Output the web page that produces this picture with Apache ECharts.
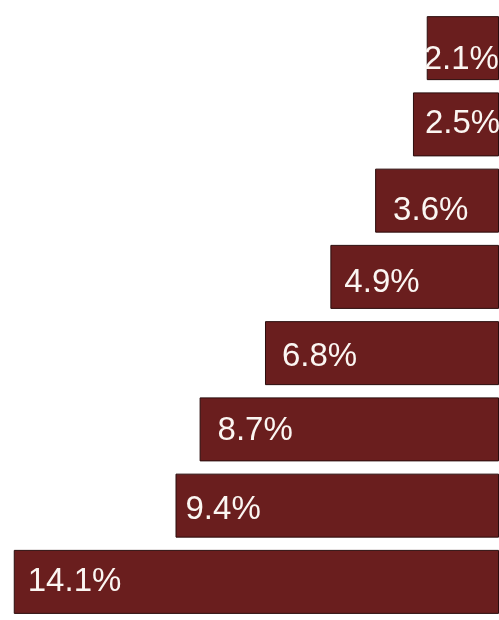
<!DOCTYPE html>
<html>
<head>
<meta charset="utf-8">
<script src="https://cdn.jsdelivr.net/npm/echarts@6/dist/echarts.min.js"></script>
<style>
  html, body { margin: 0; padding: 0; background: #fff; }
  #chart { width: 499px; height: 620px; }
</style>
</head>
<body>
<div id="chart"></div>
<script>
// 数据：从上到下
const categories = ['r1', 'r2', 'r3', 'r4', 'r5', 'r6', 'r7', 'r8']
const shares = [2.1, 2.5, 3.6, 4.9, 6.8, 8.7, 9.4, 14.1]

// label nudges inside each bar (style only)
const labelPad = [-3, 12, 18, 14, 17, 18, 10, 14]
const labelDrop = [12, 0, 10, 6, 4, 2, 4, 0]

const chart = echarts.init(document.getElementById('chart'))

const option = {
  backgroundColor: '#fff',
  animation: false,
  grid: {
    left: 0,
    right: 0,
    top: 10,
    height: 616
  },
  xAxis: {
    type: 'value',
    inverse: true,
    min: 0,
    max: 14.5,
    show: false
  },
  yAxis: {
    type: 'category',
    inverse: true,
    data: categories,
    show: false
  },
  series: [
    {
      type: 'bar',
      barWidth: 64,
      data: shares.map((v, i) => ({
        value: v,
        label: { distance: labelPad[i], offset: [0, labelDrop[i]] }
      })),
      itemStyle: {
        color: '#6a1e1e',
        borderColor: '#2b0d0d',
        borderWidth: 1
      },
      label: {
        show: true,
        position: 'insideLeft',
        color: '#fbf6f2',
        fontFamily: 'Liberation Sans, Arial, sans-serif',
        fontSize: 33,
        formatter: (p) => p.value + '%'
      }
    }
  ]
}

chart.setOption(option)
</script>
</body>
</html>
